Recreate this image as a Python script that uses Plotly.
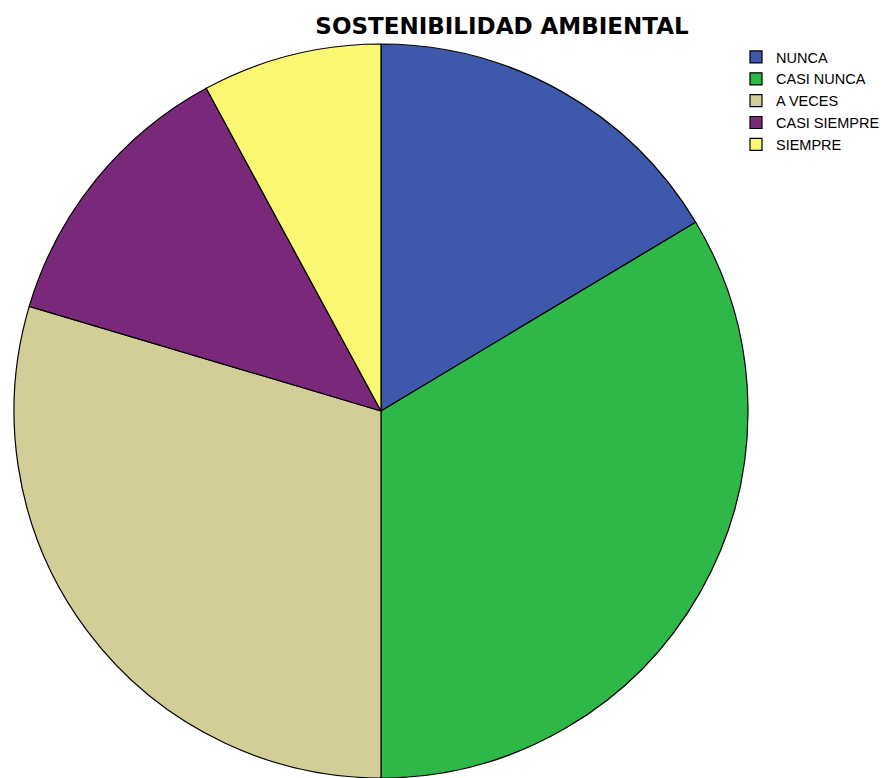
import plotly.graph_objects as go

categories = ["NUNCA", "CASI NUNCA", "A VECES", "CASI SIEMPRE", "SIEMPRE"]
values = [16.4, 33.6, 29.6, 12.5, 7.9]
colors = ["#3E58AC", "#2EB848", "#D3CE97", "#7A287A", "#FBF873"]

W, H = 890, 778
cx, cy, r = 381, 411, 367

fig = go.Figure(go.Pie(
    labels=categories,
    values=values,
    sort=False,
    direction="clockwise",
    rotation=0,
    textinfo="none",
    hoverinfo="label+percent",
    marker=dict(colors=colors, line=dict(color="black", width=1.2)),
    domain=dict(x=[(cx - r) / W, (cx + r) / W], y=[max(0, (H - cy - r) / H), (H - cy + r) / H]),
))

fig.update_layout(
    width=W, height=H,
    margin=dict(l=0, r=0, t=0, b=0),
    paper_bgcolor="white",
    plot_bgcolor="white",
    font=dict(family="Liberation Sans, Arial, sans-serif", color="black"),
    title=dict(text="<b>SOSTENIBILIDAD AMBIENTAL</b>", x=502 / W, xanchor="center",
               y=1 - 26 / H, yanchor="middle",
               font=dict(size=23, family="DejaVu Sans, sans-serif", color="black")),
    legend=dict(x=736 / W, y=1 - 41 / H, xanchor="left", yanchor="top",
                font=dict(size=14.5, color="black"), bgcolor="rgba(0,0,0,0)",
                itemwidth=30, tracegroupgap=0),
    showlegend=True,
)

fig.write_html("out.html", config={"displayModeBar": False},
               post_script="document.body.style.margin='0';")
